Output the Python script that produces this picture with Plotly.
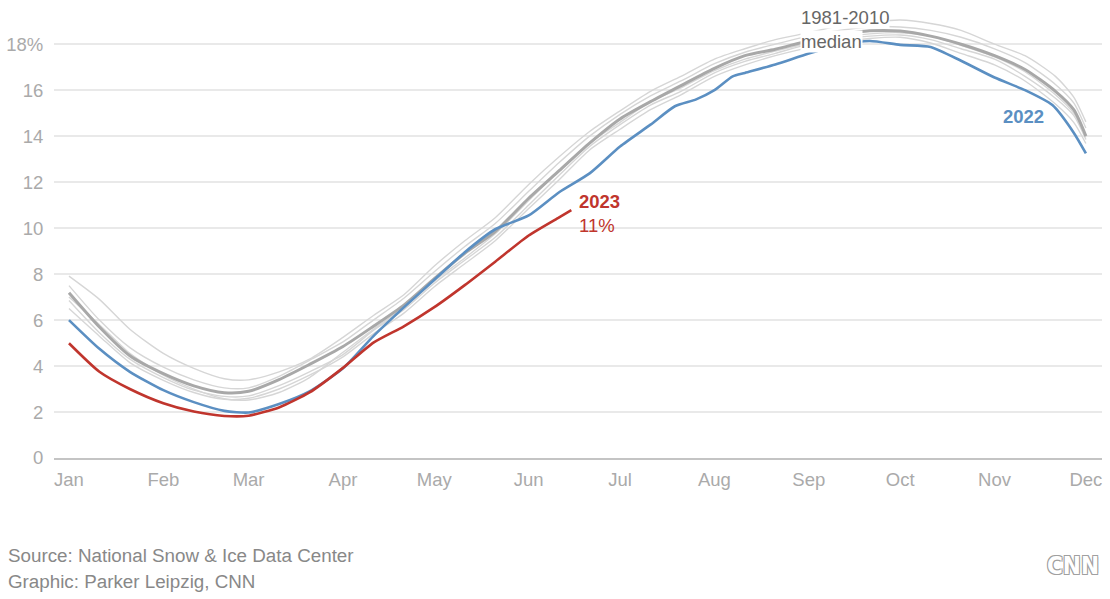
import plotly.graph_objects as go

# ---------------- data ----------------
dates = ["2023-01-01", "2023-01-11", "2023-01-21", "2023-02-01", "2023-02-11", "2023-02-21",
         "2023-03-01", "2023-03-11", "2023-03-21", "2023-04-01", "2023-04-11", "2023-04-21",
         "2023-05-01", "2023-05-11", "2023-05-21", "2023-06-01", "2023-06-11", "2023-06-21",
         "2023-07-01", "2023-07-11", "2023-07-21", "2023-08-01", "2023-08-11", "2023-08-21",
         "2023-09-01", "2023-09-11", "2023-09-21", "2023-10-01", "2023-10-11", "2023-10-21",
         "2023-11-01", "2023-11-11", "2023-11-21", "2023-11-27", "2023-12-01"]

median_1981_2010 = [7.19, 5.7, 4.45, 3.67, 3.14, 2.84, 2.9, 3.41, 4.07, 4.85, 5.73, 6.65,
                    7.8, 8.9, 9.85, 11.3, 12.5, 13.7, 14.75, 15.5, 16.2, 16.95, 17.5, 17.78,
                    18.15, 18.4, 18.58, 18.57, 18.35, 18.0, 17.5, 16.9, 15.95, 15.15, 14.0]

dates_2022 = ["2023-01-01", "2023-01-11", "2023-01-21", "2023-02-01", "2023-02-11", "2023-02-21",
              "2023-03-01", "2023-03-11", "2023-03-21", "2023-04-01", "2023-04-11", "2023-04-21",
              "2023-05-01", "2023-05-11", "2023-05-21", "2023-06-01", "2023-06-11", "2023-06-21",
              "2023-07-01", "2023-07-11", "2023-07-19", "2023-07-26", "2023-08-01", "2023-08-07",
              "2023-08-11", "2023-08-21", "2023-09-01", "2023-09-11", "2023-09-21", "2023-10-01",
              "2023-10-11", "2023-10-21", "2023-11-01", "2023-11-11", "2023-11-20", "2023-11-27",
              "2023-12-01"]
year_2022 = [6.0, 4.75, 3.75, 2.95, 2.43, 2.05, 1.98, 2.35, 2.9, 3.9, 5.3, 6.55,
             7.75, 8.95, 9.95, 10.55, 11.56, 12.38, 13.55, 14.5, 15.3, 15.6, 16.0, 16.6,
             16.75, 17.12, 17.59, 17.95, 18.14, 17.97, 17.88, 17.28, 16.55, 16.0, 15.35, 14.15,
             13.25]

dates_2023 = ["2023-01-01", "2023-01-11", "2023-01-21", "2023-02-01", "2023-02-11", "2023-02-21",
              "2023-03-01", "2023-03-11", "2023-03-21", "2023-04-01", "2023-04-11", "2023-04-21",
              "2023-05-01", "2023-05-11", "2023-05-21", "2023-06-01", "2023-06-11", "2023-06-15"]
year_2023 = [4.99, 3.75, 3.0, 2.38, 2.02, 1.83, 1.84, 2.2, 2.85, 3.92, 5.02, 5.73,
             6.56, 7.52, 8.54, 9.68, 10.47, 10.78]

# thin grey reference lines
ref_a = [7.91, 6.9, 5.6, 4.55, 3.9, 3.45, 3.4, 3.75, 4.3, 5.25, 6.2, 7.1,
         8.35, 9.45, 10.45, 11.9, 13.1, 14.2, 15.1, 15.95, 16.6, 17.35, 17.8, 18.2,
         18.5, 18.8, 18.95, 19.05, 18.9, 18.6, 18.0, 17.5, 16.6, 15.7, 14.62]
ref_b = [7.5, 6.0, 4.8, 3.95, 3.4, 3.05, 3.05, 3.55, 4.25, 5.05, 6.0, 6.95,
         8.1, 9.2, 10.2, 11.6, 12.85, 14.0, 14.95, 15.75, 16.4, 17.15, 17.65, 18.0,
         18.35, 18.6, 18.75, 18.75, 18.6, 18.3, 17.8, 17.2, 16.25, 15.45, 14.35]
ref_c = [6.85, 5.45, 4.3, 3.5, 2.95, 2.68, 2.7, 3.15, 3.75, 4.5, 5.55, 6.45,
         7.6, 8.6, 9.6, 11.0, 12.3, 13.55, 14.5, 15.35, 15.95, 16.75, 17.25, 17.6,
         18.0, 18.2, 18.35, 18.4, 18.2, 17.8, 17.35, 16.6, 15.65, 14.9, 13.85]
ref_d = [6.5, 5.3, 4.15, 3.38, 2.85, 2.55, 2.6, 3.0, 3.6, 4.4, 5.4, 6.3,
         7.45, 8.45, 9.45, 10.85, 12.1, 13.4, 14.3, 15.15, 15.8, 16.6, 17.1, 17.5,
         17.85, 18.1, 18.25, 18.3, 18.05, 17.6, 17.1, 16.4, 15.4, 14.6, 13.68]
ref_e = [7.0, 5.8, 4.55, 3.6, 3.0, 2.58, 2.52, 2.85, 3.5, 4.6, 5.6, 6.55,
         7.7, 8.7, 9.75, 11.2, 12.5, 13.7, 14.6, 15.5, 16.1, 16.85, 17.35, 17.7,
         18.05, 18.3, 18.45, 18.5, 18.35, 17.95, 17.45, 16.8, 15.8, 15.0, 13.95]
ref_lines = [ref_a, ref_b, ref_c, ref_d, ref_e]

y_tickvals = [0, 2, 4, 6, 8, 10, 12, 14, 16, 18]
y_ticktext = ["0", "2", "4", "6", "8", "10", "12", "14", "16", "18%"]

# ---------------- styles ----------------
FONT = "Liberation Sans, Arial, Helvetica, sans-serif"
GREY_THIN = "#d6d6d6"
GREY_MED = "#a8a8a8"
BLUE = "#5b8fc2"
RED = "#c0352d"

fig = go.Figure()
for ys in ref_lines:
    fig.add_trace(go.Scatter(x=dates, y=ys, mode="lines",
                             line=dict(color=GREY_THIN, width=1.4, shape="spline", smoothing=0.7),
                             hoverinfo="skip", showlegend=False))
fig.add_trace(go.Scatter(x=dates, y=median_1981_2010, mode="lines",
                         line=dict(color=GREY_MED, width=3, shape="spline", smoothing=0.7),
                         hoverinfo="skip", showlegend=False))
fig.add_trace(go.Scatter(x=dates_2022, y=year_2022, mode="lines",
                         line=dict(color=BLUE, width=2.6, shape="spline", smoothing=0.6),
                         hoverinfo="skip", showlegend=False))
fig.add_trace(go.Scatter(x=dates_2023, y=year_2023, mode="lines",
                         line=dict(color=RED, width=2.6, shape="spline", smoothing=0.6),
                         hoverinfo="skip", showlegend=False))

annotations = [
    dict(x="2023-08-29", y=19.17, text="1981-2010", xanchor="left", yanchor="middle",
         showarrow=False, bgcolor="white", borderpad=0,
         font=dict(family=FONT, size=18.5, color="#666666")),
    dict(x="2023-08-29", y=18.13, text="median", xanchor="left", yanchor="middle",
         showarrow=False, bgcolor="white", borderpad=0,
         font=dict(family=FONT, size=18.5, color="#666666")),
    dict(x="2023-11-18", y=14.87, text="<b>2022</b>", xanchor="right", yanchor="middle",
         showarrow=False, font=dict(family=FONT, size=18.5, color=BLUE)),
    dict(x="2023-06-17", y=11.17, text="<b>2023</b>", xanchor="left", yanchor="middle",
         showarrow=False, font=dict(family=FONT, size=18.5, color=RED)),
    dict(x="2023-06-17", y=10.13, text="11%", xanchor="left", yanchor="middle",
         showarrow=False, font=dict(family=FONT, size=18.5, color=RED)),
    dict(xref="paper", yref="paper", x=-0.0458, y=-0.2175,
         text="Source: National Snow &amp; Ice Data Center", xanchor="left", yanchor="middle",
         showarrow=False, font=dict(family=FONT, size=18.8, color="#888888")),
    dict(xref="paper", yref="paper", x=-0.0458, y=-0.276,
         text="Graphic: Parker Leipzig, CNN", xanchor="left", yanchor="middle",
         showarrow=False, font=dict(family=FONT, size=18.8, color="#888888")),
    dict(xref="paper", yref="paper", x=0.9723, y=-0.2422, text="<b>CNN</b>",
         xanchor="center", yanchor="middle", showarrow=False,
         font=dict(family="DejaVu Sans Condensed, DejaVu Sans, sans-serif", size=24, color="white",
                   shadow="1px 1px 0 #a0a0a0, -1px -1px 0 #a0a0a0, 1px -1px 0 #a0a0a0, -1px 1px 0 #a0a0a0")),
]

fig.update_layout(
    width=1110, height=599,
    margin=dict(l=54, r=8, t=12, b=141, autoexpand=False),
    paper_bgcolor="white", plot_bgcolor="white",
    font=dict(family=FONT, size=18.5, color="#aaaaaa"),
    annotations=annotations,
    xaxis=dict(
        type="date", automargin=False,
        range=["2022-12-27 02:00", "2023-12-06 07:00"],
        tickformat="%b", dtick="M1", tick0="2023-01-01",
        showgrid=False, zeroline=False,
        showline=True, linecolor="#c4c4c4", linewidth=1.5,
        ticks="outside", ticklen=4, tickcolor="rgba(0,0,0,0)",
        tickfont=dict(family=FONT, size=18.5, color="#aaaaaa"),
        fixedrange=True,
    ),
    yaxis=dict(
        automargin=False,
        range=[0, 19.4],
        tickvals=y_tickvals, ticktext=y_ticktext,
        showgrid=True, gridcolor="#e9e9e9", gridwidth=1.5,
        zeroline=False, showline=False,
        ticks="outside", ticklen=6, tickcolor="rgba(0,0,0,0)",
        tickfont=dict(family=FONT, size=18.5, color="#aaaaaa"),
        fixedrange=True,
    ),
)

fig.write_html("out.html", config={"displayModeBar": False},
               post_script="document.body.style.margin='0';document.body.style.overflow='hidden';")
